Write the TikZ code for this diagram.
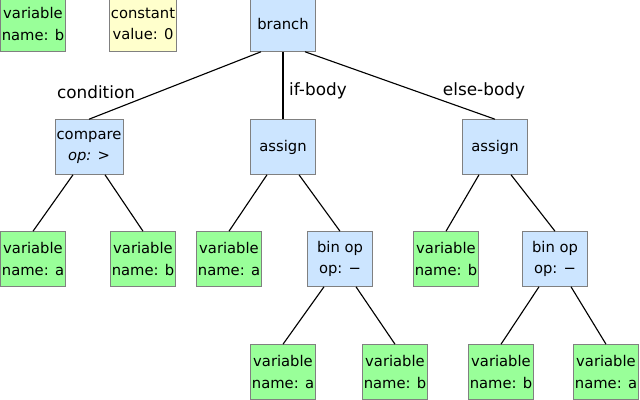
\documentclass[tikz,border=0pt]{standalone}
\usepackage{fontspec}
\setmainfont{DejaVu Sans}
\usetikzlibrary{positioning}
\definecolor{vargreen}{HTML}{99FF99}
\definecolor{opblue}{HTML}{CCE5FF}
\definecolor{constyellow}{HTML}{FFFFCC}
\tikzset{
  box/.style={draw=gray, minimum width=1.625cm, minimum height=1.375cm, align=center, inner sep=1pt, font=\fontsize{10.5}{15}\selectfont},
  var/.style={box, fill=vargreen},
  op/.style={box, fill=opblue},
  const/.style={box, fill=constyellow},
  edge/.style={thick},
  lbl/.style={font=\fontsize{12}{14}\selectfont}
}
\begin{document}
\begin{tikzpicture}
    \useasboundingbox (0,0) rectangle (16,-10);
    % Legend
    \node[var] (legvar) at (0.825,-0.6) {variable\\name: b};
    \node[const] (legconst) at (3.575,-0.6) {constant\\value: 0};

    % Tree
    \node[op] (branch) at (7.075,-0.6) {branch};
    \node[op] (cmp) at (2.225,-3.675) {compare\\\textit{op: >}};
    \node[op] (assignA) at (7.075,-3.675) {assign};
    \node[op] (assignB) at (12.375,-3.675) {assign};

    \node[var] (cmpa) at (0.825,-6.475) {variable\\name: a};
    \node[var] (cmpb) at (3.575,-6.475) {variable\\name: b};
    \node[var] (tgtA) at (5.725,-6.475) {variable\\name: a};
    \node[op] (subA) at (8.5,-6.475) {bin op\\op: −};
    \node[var] (tgtB) at (11.15,-6.475) {variable\\name: b};
    \node[op] (subB) at (13.875,-6.475) {bin op\\op: −};

    \node[var] (subAa) at (7.075,-9.3) {variable\\name: a};
    \node[var] (subAb) at (9.875,-9.3) {variable\\name: b};
    \node[var] (subBb) at (12.525,-9.3) {variable\\name: b};
    \node[var] (subBa) at (15.15,-9.3) {variable\\name: a};

    % Edges
    \draw[edge] ([xshift=-0.55cm]branch.south) -- (cmp.north);
    \draw[edge] (branch.south) -- (assignA.north);
    \draw[edge] ([xshift=0.55cm]branch.south) -- (assignB.north);
    \foreach \p/\l/\r in {cmp/cmpa/cmpb, assignA/tgtA/subA, assignB/tgtB/subB, subA/subAa/subAb, subB/subBb/subBa} {
        \draw[edge] ([xshift=-0.4cm]\p.south) -- (\l.north);
        \draw[edge] ([xshift=0.4cm]\p.south) -- (\r.north);
    }

    % Labels
    \node[lbl] (lcond) at (2.4,-2.3) {condition};
    \node[lbl] (lif) at (7.95,-2.28) {if-body};
    \node[lbl] (lelse) at (12.1,-2.28) {else-body};
\end{tikzpicture}
\end{document}
